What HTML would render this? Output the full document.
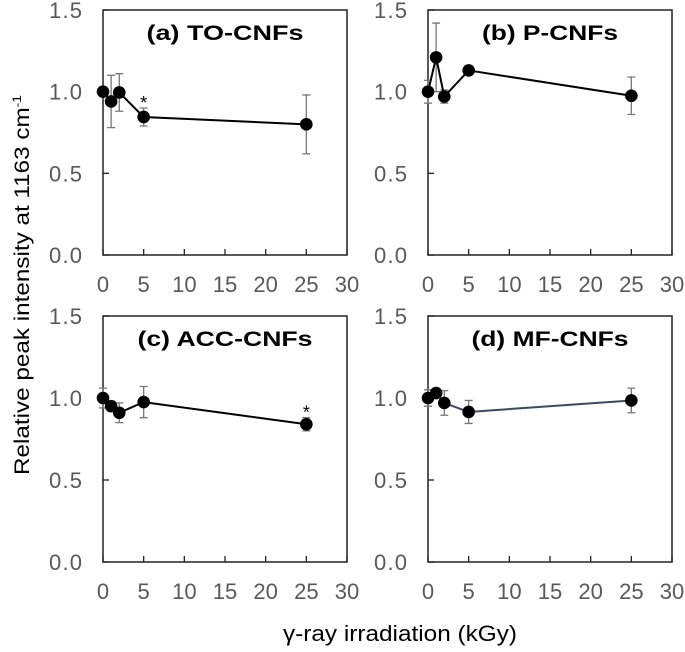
<!DOCTYPE html>
<html><head><meta charset="utf-8"><style>
body{margin:0;background:#fff}
svg{display:block}
text{font-family:"Liberation Sans",Arial,sans-serif}
</style></head><body>
<svg id="chart" width="685" height="652" viewBox="0 0 685 652">
<text x="400" y="641" font-size="22" fill="#000" text-anchor="middle" textLength="234" lengthAdjust="spacingAndGlyphs">γ-ray irradiation (kGy)</text>
<text transform="translate(29,285) rotate(-90)" font-size="21" fill="#000" text-anchor="middle" textLength="380" lengthAdjust="spacingAndGlyphs">Relative peak intensity at 1163 cm<tspan font-size="12" dy="-8">-1</tspan></text>
</svg>
<script>
const doses = [0, 1, 2, 5, 25];
const xTicks = [0, 5, 10, 15, 20, 25, 30];
const yTicks = [0.0, 0.5, 1.0, 1.5];
const titles = ["(a) TO-CNFs", "(b) P-CNFs", "(c) ACC-CNFs", "(d) MF-CNFs"];
const valuesA = [1.0, 0.94, 0.995, 0.845, 0.80];
const errA = [0, 0.16, 0.115, 0.055, 0.18];
const valuesB = [1.0, 1.21, 0.97, 1.13, 0.975];
const errB = [0.07, 0.21, 0.04, 0.0, 0.115];
const valuesC = [1.0, 0.95, 0.91, 0.975, 0.84];
const errC = [0.06, 0.03, 0.06, 0.095, 0.04];
const valuesD = [1.0, 1.03, 0.97, 0.915, 0.985];
const errD = [0.05, 0.0, 0.075, 0.07, 0.075];
const starsA = [0, 0, 0, 1, 0];
const starsB = [0, 0, 0, 0, 0];
const starsC = [0, 0, 0, 0, 1];
const starsD = [0, 0, 0, 0, 0];

const NS = "http://www.w3.org/2000/svg";
const svg = document.getElementById("chart");
function mk(tag, attrs, parent) {
  const e = document.createElementNS(NS, tag);
  for (const k in attrs) e.setAttribute(k, attrs[k]);
  (parent || svg).appendChild(e);
  return e;
}
const titleWidths = [157, 136, 175, 157];
const panels = [
  {x0:103, x1:347, y0:10, y1:255, v:valuesA, e:errA, s:starsA, c:"#000", id:"a"},
  {x0:428, x1:672, y0:10, y1:255, v:valuesB, e:errB, s:starsB, c:"#000", id:"b"},
  {x0:103, x1:347, y0:316, y1:562, v:valuesC, e:errC, s:starsC, c:"#000", id:"c"},
  {x0:428, x1:672, y0:316, y1:562, v:valuesD, e:errD, s:starsD, c:"#3b4a5e", id:"d"}
];
panels.forEach((p, i) => {
  const g = mk("g", {});
  
  
  const xs = d => p.x0 + (d / 30) * (p.x1 - p.x0);
  const ys = v => p.y1 - (v / 1.5) * (p.y1 - p.y0);
  const box = mk("rect", {x:p.x0, y:p.y0, width:p.x1-p.x0, height:p.y1-p.y0, fill:"none", stroke:"#222", "stroke-width":1.5}, g);
  
  
  xTicks.forEach(t => {
    const x = xs(t);
    mk("line", {x1:x, x2:x, y1:p.y1, y2:p.y1-6, stroke:"#222", "stroke-width":1.3}, g);
    const lb = mk("text", {x:x, y:p.y1+37, "font-size":22, fill:"#595959", "text-anchor":"middle"}, g);
    lb.textContent = t;
    
    
  });
  yTicks.forEach(t => {
    const y = ys(t);
    mk("line", {x1:p.x0, x2:p.x0+6, y1:y, y2:y, stroke:"#222", "stroke-width":1.3}, g);
    const lb = mk("text", {x:p.x0-21, y:y+8, "font-size":22, fill:"#595959", "text-anchor":"end", textLength:33, lengthAdjust:"spacing"}, g);
    lb.textContent = t.toFixed(1);
    
    
  });
  const tt = mk("text", {x:(p.x0+p.x1)/2, y:p.y0+30, "font-size":21, "font-weight":"bold", fill:"#000", "text-anchor":"middle", textLength:titleWidths[i], lengthAdjust:"spacingAndGlyphs"}, g);
  tt.textContent = titles[i];
  
  
  doses.forEach((d, j) => {
    if (p.e[j] <= 0) return;
    const x = xs(d), ya = ys(p.v[j] + p.e[j]), yb = ys(p.v[j] - p.e[j]);
    const eb = mk("path", {d:`M${x},${ya}V${yb}M${x-4},${ya}H${x+4}M${x-4},${yb}H${x+4}`, stroke:"#777", "stroke-width":1.3, fill:"none"}, g);
    
    
  });
  const pts = doses.map((d, j) => xs(d) + "," + ys(p.v[j])).join(" ");
  const ln = mk("polyline", {points:pts, fill:"none", stroke:p.c, "stroke-width":2}, g);
  
  
  doses.forEach((d, j) => {
    const c = mk("circle", {cx:xs(d), cy:ys(p.v[j]), r:6.3, fill:"#000"}, g);
    
    
    if (p.s[j]) {
      const st = mk("text", {x:xs(d), y:ys(p.v[j]+p.e[j])+1, "font-size":18, fill:"#000", "text-anchor":"middle"}, g);
      st.textContent = "*";
      
      
    }
  });
});
</script>
</body></html>
